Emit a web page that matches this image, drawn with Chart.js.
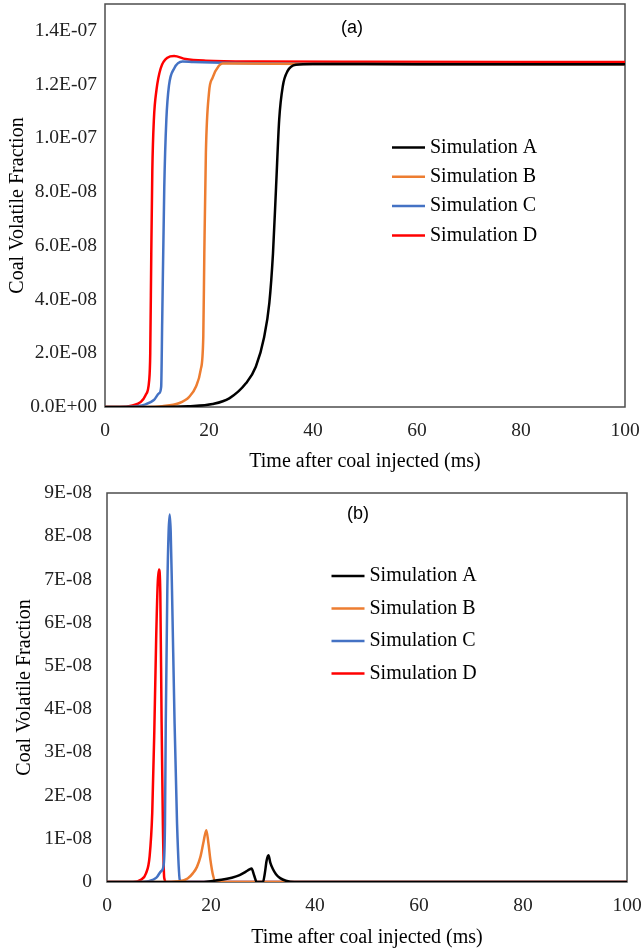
<!DOCTYPE html>
<html>
<head>
<meta charset="utf-8">
<script src="https://cdn.jsdelivr.net/npm/chart.js@4.4.1/dist/chart.umd.min.js"></script>
<style>
  body { margin: 0; background: #fff; }
  canvas { position: absolute; left: 0; }
  #chart_a { top: 0; }
  #chart_b { top: 475px; }
</style>
</head>
<body>
<canvas id="chart_a" width="642" height="475"></canvas>
<canvas id="chart_b" width="642" height="475"></canvas>
<script>
var seriesNames = ['Simulation A', 'Simulation B', 'Simulation C', 'Simulation D'];
var seriesColors = ['#000000', '#ED7D31', '#4472C4', '#FF0000'];
var timeTicks = [0, 20, 40, 60, 80, 100];
var yTicks_a = [0, 2e-8, 4e-8, 6e-8, 8e-8, 1e-7, 1.2e-7, 1.4e-7];
var yTicks_b = [0, 1e-8, 2e-8, 3e-8, 4e-8, 5e-8, 6e-8, 7e-8, 8e-8, 9e-8];

// (a) cumulative volatile fraction
var timeA_a = [0, 10, 16, 20.7, 23.9, 27.1, 29.0, 30.6, 31.6, 32.3, 32.9, 33.5, 34.2, 35.1, 36.7, 40, 60, 100];
var fracA_a = [0, 0, 0.03e-8, 0.11e-8, 0.32e-8, 0.88e-8, 1.5e-8, 2.6e-8, 3.87e-8, 5.7e-8, 8.2e-8, 1.07e-7, 1.195e-7, 1.25e-7, 1.274e-7, 1.277e-7, 1.276e-7, 1.276e-7];
var timeB_a = [0, 8, 11, 14.2, 16.2, 17.5, 18.4, 18.9, 19.1, 19.4, 20.0, 20.7, 21.9, 22.6, 25, 40, 100];
var fracB_a = [0, 0, 0.03e-8, 0.14e-8, 0.38e-8, 0.76e-8, 1.38e-8, 2.6e-8, 5.7e-8, 9.46e-8, 1.17e-7, 1.226e-7, 1.27e-7, 1.279e-7, 1.279e-7, 1.277e-7, 1.276e-7];
var timeC_a = [0, 4.6, 7.8, 9.4, 10.4, 10.8, 11.0, 11.4, 11.8, 12.3, 13.3, 14.9, 17, 25, 40, 100];
var fracC_a = [0, 0.01e-8, 0.1e-8, 0.26e-8, 0.51e-8, 0.75e-8, 3.2e-8, 8.2e-8, 1.07e-7, 1.196e-7, 1.26e-7, 1.286e-7, 1.284e-7, 1.28e-7, 1.277e-7, 1.276e-7];
var timeD_a = [0, 2.7, 5.3, 6.9, 7.8, 8.5, 8.7, 8.9, 9.1, 9.4, 9.9, 10.7, 12.0, 13.3, 15.5, 19.4, 30, 50, 100];
var fracD_a = [0, 0, 0.06e-8, 0.19e-8, 0.44e-8, 1.0e-8, 2.0e-8, 5.7e-8, 8.8e-8, 1.07e-7, 1.18e-7, 1.26e-7, 1.3e-7, 1.306e-7, 1.295e-7, 1.289e-7, 1.286e-7, 1.285e-7, 1.284e-7];

// (b) instantaneous volatile fraction
var timeA_b = [0, 18, 20, 22, 24, 25.5, 26.7, 27.4, 27.8, 28.3, 28.8, 30.0, 30.35, 30.7, 31.05, 31.4, 31.9, 32.5, 33.3, 34.4, 36, 100];
var fracA_b = [0, 0, 0.02e-8, 0.05e-8, 0.1e-8, 0.16e-8, 0.24e-8, 0.29e-8, 0.31e-8, 0.15e-8, 0, 0, 0.2e-8, 0.5e-8, 0.62e-8, 0.45e-8, 0.3e-8, 0.18e-8, 0.09e-8, 0.03e-8, 0, 0];
var timeB_b = [0, 10, 14, 15.5, 16.5, 17.3, 18.0, 18.6, 19.1, 19.5, 19.9, 20.4, 20.9, 100];
var fracB_b = [0, 0, 0.02e-8, 0.08e-8, 0.2e-8, 0.35e-8, 0.6e-8, 0.95e-8, 1.2e-8, 0.9e-8, 0.5e-8, 0.15e-8, 0, 0];
var timeC_b = [0, 6, 8, 9.5, 10.4, 10.9, 11.15, 11.3, 11.6, 11.85, 12.06, 12.25, 12.5, 13.0, 13.47, 14.0, 14.6, 100];
var fracC_b = [0, 0, 0.02e-8, 0.1e-8, 0.25e-8, 0.4e-8, 1.35e-8, 3.66e-8, 6.75e-8, 8.1e-8, 8.5e-8, 8.1e-8, 6.75e-8, 3.66e-8, 1.35e-8, 0.05e-8, 0, 0];
var timeD_b = [0, 5, 6.5, 7.5, 8.2, 8.7, 9.1, 9.45, 9.75, 10.0, 10.25, 10.5, 10.75, 11.0, 11.4, 100];
var fracD_b = [0, 0, 0.05e-8, 0.2e-8, 0.6e-8, 1.6e-8, 3.5e-8, 5.6e-8, 6.9e-8, 7.23e-8, 6.7e-8, 3.7e-8, 1.3e-8, 0.1e-8, 0, 0];

var serif = '"Liberation Serif", "Times New Roman", serif';

function toPoints(xs, ys) {
  return xs.map(function (x, i) { return { x: x, y: ys[i] }; });
}

function makeDatasets(times, fracs) {
  return seriesNames.map(function (name, i) {
    return {
      label: name,
      data: toPoints(times[i], fracs[i]),
      borderColor: seriesColors[i],
      backgroundColor: seriesColors[i],
      borderWidth: 2.5,
      pointRadius: 0,
      fill: false,
      cubicInterpolationMode: 'monotone'
    };
  });
}

function expLabel(v, digits) {
  var parts = v.toExponential(digits).split('e');
  var e = parseInt(parts[1], 10);
  return parts[0] + 'E' + (e < 0 ? '-' : '+') + String(Math.abs(e)).padStart(2, '0');
}

// frame round the plot area, drawn under the lines
var framePlugin = {
  id: 'frame',
  beforeDatasetsDraw: function (chart) {
    var a = chart.chartArea, ctx = chart.ctx;
    ctx.save();
    ctx.strokeStyle = '#4d4d4d';
    ctx.lineWidth = 1.5;
    ctx.strokeRect(a.left, a.top, a.right - a.left, a.bottom - a.top);
    ctx.restore();
  }
};

// legend and panel tag inside the plot
var notesPlugin = {
  id: 'notes',
  afterDraw: function (chart, args, opts) {
    var ctx = chart.ctx;
    ctx.save();
    ctx.textBaseline = 'middle';
    ctx.font = '20px ' + serif;
    chart.data.datasets.forEach(function (ds, i) {
      var y = opts.legendY + i * opts.legendGap;
      ctx.strokeStyle = ds.borderColor;
      ctx.lineWidth = 2.5;
      ctx.beginPath();
      ctx.moveTo(opts.legendX, y);
      ctx.lineTo(opts.legendX + 33, y);
      ctx.stroke();
      ctx.fillStyle = '#000';
      ctx.fillText(ds.label, opts.legendX + 38, y);
    });
    ctx.font = '18px "Liberation Sans", Arial, sans-serif';
    ctx.textAlign = 'center';
    ctx.fillStyle = '#000';
    ctx.fillText(opts.tag, opts.tagX, opts.tagY);
    ctx.restore();
  }
};

function makeChart(id, datasets, cfg) {
  return new Chart(document.getElementById(id).getContext('2d'), {
    type: 'line',
    data: { datasets: datasets },
    plugins: [framePlugin, notesPlugin],
    options: {
      responsive: false,
      animation: false,
      devicePixelRatio: 1,
      layout: { padding: { left: 0, top: cfg.padTop, right: cfg.padRight, bottom: 0 } },
      plugins: {
        legend: { display: false },
        tooltip: { enabled: false },
        notes: cfg.notes
      },
      scales: {
        x: {
          type: 'linear',
          min: 0,
          max: 100,
          grid: { display: false, drawTicks: false },
          border: { display: false },
          afterBuildTicks: function (s) { s.ticks = timeTicks.map(function (v) { return { value: v }; }); },
          afterFit: function (s) { s.height = 68; s.paddingLeft = 0; s.paddingRight = 0; },
          ticks: { padding: 12.5, color: '#222', font: { family: serif, size: 19.5 } },
          title: {
            display: true,
            text: 'Time after coal injected (ms)',
            color: '#000',
            font: { family: serif, size: 20 },
            padding: { top: 0, bottom: cfg.xTitlePad }
          }
        },
        y: {
          type: 'linear',
          min: 0,
          max: cfg.yMax,
          grid: { display: false, drawTicks: false },
          border: { display: false },
          afterBuildTicks: function (s) { s.ticks = cfg.yTicks.map(function (v) { return { value: v }; }); },
          afterFit: function (s) { s.width = cfg.yWidth; s.paddingTop = 0; s.paddingBottom = 0; },
          ticks: {
            padding: cfg.yTickPad,
            color: '#222',
            font: { family: serif, size: 19.5 },
            callback: cfg.yFormat
          },
          title: {
            display: true,
            text: 'Coal Volatile Fraction',
            color: '#000',
            font: { family: serif, size: 20 },
            padding: { top: cfg.yTitlePad, bottom: 0 }
          }
        }
      }
    }
  });
}

var chart_a = makeChart('chart_a',
  makeDatasets([timeA_a, timeB_a, timeC_a, timeD_a], [fracA_a, fracB_a, fracC_a, fracD_a]), {
  padTop: 4, padRight: 17, yWidth: 105, yMax: 1.5e-7, yTicks: yTicks_a,
  yTickPad: 8, yTitlePad: 5.5, xTitlePad: 1.5,
  yFormat: function (v) { return v === 0 ? '0.0E+00' : expLabel(v, 1); },
  notes: { legendX: 392, legendY: 147.5, legendGap: 29.3, tag: '(a)', tagX: 352, tagY: 28 }
});

var chart_b = makeChart('chart_b',
  makeDatasets([timeA_b, timeB_b, timeC_b, timeD_b], [fracA_b, fracB_b, fracC_b, fracD_b]), {
  padTop: 18, padRight: 15, yWidth: 107, yMax: 9e-8, yTicks: yTicks_b,
  yTickPad: 15, yTitlePad: 12.5, xTitlePad: 0,
  yFormat: function (v) { return v === 0 ? '0' : expLabel(v, 0); },
  notes: { legendX: 331.5, legendY: 101, legendGap: 32.5, tag: '(b)', tagX: 358, tagY: 39 }
});
</script>
</body>
</html>
